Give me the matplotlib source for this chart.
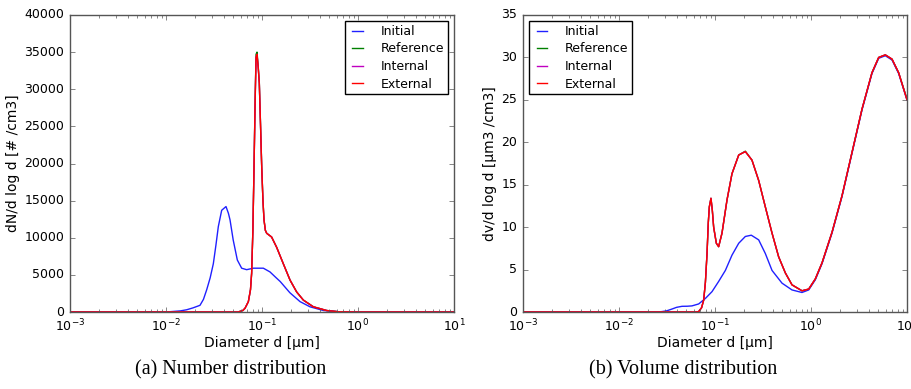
import matplotlib
matplotlib.use("Agg")
import matplotlib.pyplot as plt
import numpy as np

plt.style.use("classic")
plt.rcParams.update({"figure.facecolor": "white", "savefig.facecolor": "white",
                     "font.family": "DejaVu Sans", "font.size": 9,
                     "axes.labelsize": 10, "xtick.labelsize": 9, "ytick.labelsize": 9,
                     "xtick.major.size": 3.5, "ytick.major.size": 3.5,
                     "xtick.minor.size": 2, "ytick.minor.size": 2,
                     "lines.linewidth": 1.0, "legend.fontsize": 9})

# ---- (a) number distribution: log10(d [um]) and dN/dlogd [#/cm3]
NUM_INIT_LOGD = [-3.0, -2.0, -1.85, -1.785, -1.72, -1.646, -1.61, -1.576, -1.54, -1.507,
                 -1.48, -1.455, -1.42, -1.375, -1.35, -1.333, -1.30, -1.257, -1.212, -1.16,
                 -1.09, -0.986, -0.917, -0.86, -0.81, -0.71, -0.604, -0.5, -0.36, -0.2, 0.0, 1.0]
NUM_INIT = [0, 0, 150, 300, 550, 900, 1700, 3000, 4600, 6500,
            9000, 11500, 13700, 14200, 13300, 12400, 9700, 7000, 5900, 5700,
            5900, 5900, 5400, 4700, 4100, 2600, 1400, 700, 200, 30, 0, 0]

NUM_AFTER_LOGD = [-3.0, -1.25, -1.2, -1.177, -1.142, -1.12, -1.108, -1.095, -1.083, -1.072,
                  -1.062, -1.052, -1.04, -1.028, -1.015, -1.003, -0.99, -0.979, -0.965, -0.951,
                  -0.9, -0.847, -0.778, -0.708, -0.639, -0.569, -0.465, -0.326, -0.2, 0.0, 1.0]
NUM_REF = [0, 0, 200, 500, 1400, 3000, 5200, 11000, 19600, 28300,
           34700, 35000, 33200, 30900, 25100, 19600, 15000, 12400, 11000, 10600,
           10100, 8700, 6500, 4300, 2700, 1600, 700, 200, 30, 0, 0]
NUM_INT = [0, 0, 200, 500, 1400, 3000, 5200, 11000, 19500, 28000,
           34300, 34700, 33000, 30800, 25000, 19500, 15000, 12400, 11000, 10600,
           10100, 8700, 6500, 4300, 2700, 1600, 700, 200, 30, 0, 0]
NUM_EXT = [0, 0, 200, 500, 1400, 3000, 5200, 11000, 19500, 28000,
           34300, 34700, 33000, 30800, 25000, 19500, 15000, 12400, 11000, 10600,
           10100, 8700, 6500, 4300, 2700, 1600, 700, 200, 30, 0, 0]

# ---- (b) volume distribution: dv/dlogd [um3/cm3]
VOL_INIT_LOGD = [-3.0, -1.6, -1.552, -1.5, -1.448, -1.4, -1.344, -1.29, -1.24, -1.17,
                 -1.10, -1.031, -0.962, -0.892, -0.823, -0.753, -0.684, -0.622, -0.545, -0.476,
                 -0.406, -0.302, -0.198, -0.094, -0.024, 0.045, 0.115, 0.219, 0.323, 0.427,
                 0.531, 0.635, 0.705, 0.774, 0.844, 0.913, 1.0]
VOL_INIT = [0, 0, 0.05, 0.15, 0.35, 0.55, 0.67, 0.68, 0.72, 0.95,
            1.6, 2.4, 3.6, 4.9, 6.7, 8.1, 8.9, 9.05, 8.5, 6.9,
            4.9, 3.4, 2.6, 2.3, 2.6, 3.8, 5.7, 9.3, 13.6, 18.7,
            23.8, 28.1, 29.9, 30.2, 29.7, 28.1, 25.0]

VOL_AFTER_LOGD = [-3.0, -1.2, -1.17, -1.14, -1.118, -1.10, -1.083, -1.07, -1.059, -1.042,
                  -1.028, -1.014, -0.986, -0.962, -0.927, -0.875, -0.823, -0.753, -0.684, -0.615,
                  -0.545, -0.476, -0.406, -0.337, -0.267, -0.198, -0.094, -0.024, 0.045, 0.115,
                  0.219, 0.323, 0.427, 0.531, 0.635, 0.705, 0.774, 0.844, 0.913, 1.0]
VOL_REF = [0, 0, 0.05, 0.5, 1.4, 3.5, 6.9, 10.5, 12.4, 13.4,
           12.0, 10.0, 8.1, 7.7, 9.3, 13.2, 16.3, 18.5, 18.95, 17.9,
           15.5, 12.4, 9.3, 6.5, 4.6, 3.2, 2.5, 2.7, 3.9, 5.8,
           9.4, 13.7, 18.8, 23.9, 28.2, 30.0, 30.3, 29.8, 28.2, 25.1]
VOL_INT = [0, 0, 0.05, 0.5, 1.4, 3.5, 6.9, 10.5, 12.4, 13.4,
           12.0, 10.0, 8.1, 7.7, 9.3, 13.2, 16.3, 18.5, 18.9, 17.9,
           15.5, 12.4, 9.3, 6.5, 4.6, 3.2, 2.5, 2.7, 3.9, 5.8,
           9.4, 13.7, 18.8, 23.9, 28.2, 30.0, 30.3, 29.8, 28.2, 25.0]
VOL_EXT = VOL_INT

LABELS = ["Initial", "Reference", "Internal", "External"]
COLORS = ["#2020ff", "#008000", "#c000c0", "#ff0000"]


def d_of(logd):
    return 10 ** np.asarray(logd, dtype=float)


fig = plt.figure(figsize=(9.12, 3.89), dpi=100)
ax1 = fig.add_axes([70 / 912, 77 / 389, 384 / 912, 297 / 389])
ax2 = fig.add_axes([523 / 912, 77 / 389, 384 / 912, 297 / 389])

series1 = [(NUM_INIT_LOGD, NUM_INIT), (NUM_AFTER_LOGD, NUM_REF),
           (NUM_AFTER_LOGD, NUM_INT), (NUM_AFTER_LOGD, NUM_EXT)]
series2 = [(VOL_INIT_LOGD, VOL_INIT), (VOL_AFTER_LOGD, VOL_REF),
           (VOL_AFTER_LOGD, VOL_INT), (VOL_AFTER_LOGD, VOL_EXT)]

leg_kw = dict(handlelength=1.45, handletextpad=1.1, borderpad=0.3,
              labelspacing=0.36, borderaxespad=0.5)

for ax, series in [(ax1, series1), (ax2, series2)]:
    for (lx, v), lab, c in zip(series, LABELS, COLORS):
        ax.plot(d_of(lx), v, color=c, lw=1.0, label=lab)
    ax.set_xscale("log")
    ax.set_xlim(1e-3, 1e1)
    ax.set_xlabel("Diameter d [\u00b5m]", labelpad=1)
    ax.tick_params(which="both", color="#555555")
    for s in ax.spines.values():
        s.set_color("#555555")

ax1.set_ylim(0, 40000)
ax1.set_ylabel("dN/d log d [# /cm3]", labelpad=3)
ax1.legend(loc="upper right", **leg_kw)
ax2.set_ylim(0, 35)
ax2.set_ylabel("dv/d log d [\u00b5m3 /cm3]", labelpad=3)
ax2.legend(loc="upper left", **leg_kw)

fig.text(231 / 912, 1 - 370 / 389, "(a) Number distribution", ha="center", va="center",
         family="Liberation Serif", fontsize=14.5)
fig.text(683 / 912, 1 - 370 / 389, "(b) Volume distribution", ha="center", va="center",
         family="Liberation Serif", fontsize=14.5)

fig.savefig("out.png", dpi=100)
